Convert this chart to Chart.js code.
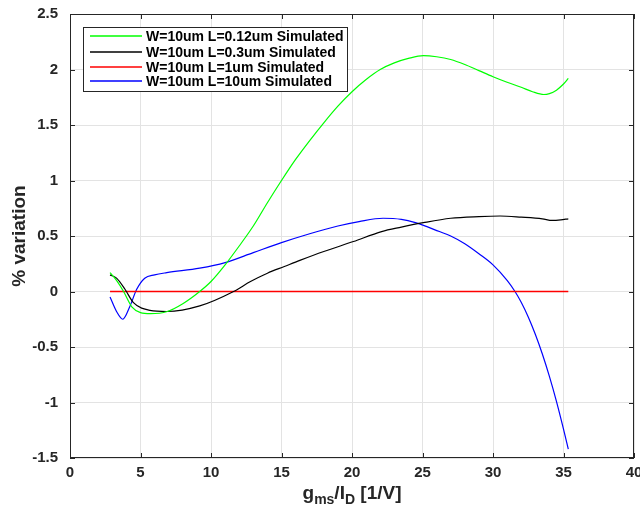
<!DOCTYPE html>
<html>
<head>
<meta charset="utf-8">
<script src="https://cdn.jsdelivr.net/npm/chart.js@4.4.1/dist/chart.umd.min.js"></script>
<style>
html,body{margin:0;padding:0;background:#fff;}
#wrap{width:640px;height:514px;position:relative;}
</style>
</head>
<body>
<div id="wrap"><canvas id="c" width="640" height="514"></canvas></div>
<script>
// ---- data ----
const seriesLabels = [
  "W=10um L=0.12um Simulated",
  "W=10um L=0.3um Simulated",
  "W=10um L=1um Simulated",
  "W=10um L=10um Simulated"
];
const greenX = [2.84, 3.3, 3.8, 4.4, 5.0, 5.7, 6.9, 8.0, 9.2, 10, 11, 12, 13, 14, 15, 16, 17, 18, 19, 20, 21, 22, 23, 24, 25.06, 26, 27, 28, 29, 30, 31, 32, 32.8, 33.6, 34, 34.5, 35, 35.34];
const greenY = [0.17, 0.10, 0.0, -0.14, -0.19, -0.20, -0.18, -0.11, 0.0, 0.09, 0.24, 0.41, 0.59, 0.80, 1.00, 1.19, 1.36, 1.52, 1.67, 1.80, 1.91, 2.00, 2.06, 2.10, 2.125, 2.115, 2.09, 2.045, 1.99, 1.935, 1.885, 1.84, 1.80, 1.775, 1.783, 1.814, 1.869, 1.92];
const blackX = [2.84, 3.3, 3.9, 4.5, 5.67, 6.86, 9.2, 11.6, 12.8, 14, 15.2, 16.3, 18, 20.1, 22.1, 23.5, 25.06, 27, 29, 30.5, 32, 33.5, 34.2, 34.8, 35.34];
const blackY = [0.15, 0.12, 0.02, -0.10, -0.17, -0.18, -0.13, 0.0, 0.09, 0.165, 0.225, 0.28, 0.36, 0.45, 0.54, 0.58, 0.62, 0.66, 0.675, 0.68, 0.67, 0.655, 0.64, 0.645, 0.655];
const redX = [2.84, 35.34];
const redY = [0, 0];
const blueX = [2.84, 3.3, 3.74, 4.26, 4.73, 5.3, 6.0, 6.86, 9.2, 11, 13, 15, 17, 19, 20.5, 22.2, 23.5, 24.5, 26.2, 27, 28, 29, 30, 31, 31.56, 32, 32.5, 33, 33.5, 34, 34.5, 35, 35.34];
const blueY = [-0.05, -0.18, -0.25, -0.13, 0.02, 0.12, 0.15, 0.17, 0.21, 0.26, 0.35, 0.44, 0.52, 0.59, 0.63, 0.66, 0.65, 0.62, 0.54, 0.50, 0.43, 0.34, 0.24, 0.10, 0.0, -0.097, -0.229, -0.385, -0.563, -0.765, -0.99, -1.24, -1.42];
const xTicks = [0, 5, 10, 15, 20, 25, 30, 35, 40];
const yTicks = [-1.5, -1, -0.5, 0, 0.5, 1, 1.5, 2, 2.5];

const colors = ["#00ff00", "#000000", "#ff0000", "#0000ff"];
const widths = [1.2, 1.2, 1.7, 1.2];
const FONT = "'Liberation Sans', Arial, Helvetica, sans-serif";
const AX = "#262626";

function pts(xs, ys){ return xs.map((x,i)=>({x:x, y:ys[i]})); }
const allData = [pts(greenX,greenY), pts(blackX,blackY), pts(redX,redY), pts(blueX,blueY)];

const datasets = allData.map((d,i)=>({
  label: seriesLabels[i],
  data: d,
  borderColor: colors[i],
  backgroundColor: colors[i],
  borderWidth: widths[i],
  pointRadius: 0,
  fill: false,
  cubicInterpolationMode: 'monotone'
}));

const decor = {
  id: 'decor',
  afterDraw(chart){
    const ctx = chart.ctx, a = chart.chartArea;
    const xs = chart.scales.x, ys = chart.scales.y;
    ctx.save();
    // box
    ctx.strokeStyle = AX; ctx.lineWidth = 1;
    ctx.strokeRect(Math.round(a.left)+0.5, Math.round(a.top)+0.5, Math.round(a.right-a.left)-1, Math.round(a.bottom-a.top)-1);
    // inward ticks
    ctx.beginPath();
    xTicks.forEach(v=>{
      const p = Math.round(xs.getPixelForValue(v))+0.5;
      ctx.moveTo(p, a.bottom); ctx.lineTo(p, a.bottom-5);
      ctx.moveTo(p, a.top); ctx.lineTo(p, a.top+5);
    });
    yTicks.forEach(v=>{
      const p = Math.round(ys.getPixelForValue(v))+0.5;
      ctx.moveTo(a.left, p); ctx.lineTo(a.left+5, p);
      ctx.moveTo(a.right, p); ctx.lineTo(a.right-5, p);
    });
    ctx.stroke();
    // legend
    const lx = 83, ly = 27, lw = 264, lh = 64;
    ctx.fillStyle = '#fff';
    ctx.fillRect(lx, ly, lw, lh);
    ctx.strokeStyle = AX;
    ctx.strokeRect(lx+0.5, ly+0.5, lw, lh);
    ctx.font = "bold 14px " + FONT;
    ctx.textBaseline = 'middle';
    ctx.textAlign = 'left';
    const rows = [36, 52, 67, 81];
    chart.data.datasets.forEach((ds,i)=>{
      ctx.strokeStyle = colors[i]; ctx.lineWidth = 1.4;
      ctx.beginPath(); ctx.moveTo(90, rows[i]); ctx.lineTo(142, rows[i]); ctx.stroke();
      ctx.fillStyle = '#000';
      ctx.fillText(ds.label, 146, rows[i]+1);
    });
    // x title with subscripts
    ctx.fillStyle = AX;
    ctx.textBaseline = 'alphabetic';
    const big = "bold 19px " + FONT, small = "bold 14px " + FONT;
    const parts = [["g",big,0],["ms",small,5],["/I",big,0],["D",small,5],[" [1/V]",big,0]];
    let w = 0;
    parts.forEach(p=>{ ctx.font = p[1]; w += ctx.measureText(p[0]).width; });
    let x = (a.left + a.right)/2 - w/2;
    const base = 499;
    parts.forEach(p=>{ ctx.font = p[1]; ctx.fillText(p[0], x, base + p[2]); x += ctx.measureText(p[0]).width; });
    // y title
    ctx.translate(25, (a.top + a.bottom)/2);
    ctx.rotate(-Math.PI/2);
    ctx.font = big;
    ctx.textAlign = 'center';
    ctx.textBaseline = 'alphabetic';
    ctx.fillText("% variation", 0, 0);
    ctx.restore();
  }
};

new Chart(document.getElementById('c'), {
  type: 'line',
  data: { datasets },
  options: {
    responsive: false,
    animation: false,
    events: [],
    layout: { padding: { top: 14, right: 6, left: 0, bottom: 0 } },
    plugins: { legend: { display: false }, tooltip: { enabled: false } },
    scales: {
      x: {
        type: 'linear', min: 0, max: 40,
        afterBuildTicks(s){ s.ticks = xTicks.map(v=>({value:v})); },
        afterFit(s){ s.height = 56; s.paddingLeft = 0; s.paddingRight = 0; },
        grid: { color: '#e3e3e3', lineWidth: 1, drawTicks: false },
        border: { display: false },
        ticks: { color: AX, padding: 6, maxRotation: 0, font: { family: FONT, size: 15, weight: 'bold' },
                 callback: v => String(v) }
      },
      y: {
        type: 'linear', min: -1.5, max: 2.5,
        afterBuildTicks(s){ s.ticks = yTicks.map(v=>({value:v})); },
        afterFit(s){ s.width = 70; s.paddingTop = 0; s.paddingBottom = 0; },
        grid: { color: '#e3e3e3', lineWidth: 1, drawTicks: false },
        border: { display: false },
        ticks: { color: AX, padding: 12, font: { family: FONT, size: 15, weight: 'bold' },
                 callback: v => String(v) }
      }
    }
  },
  plugins: [decor]
});
</script>
</body>
</html>
